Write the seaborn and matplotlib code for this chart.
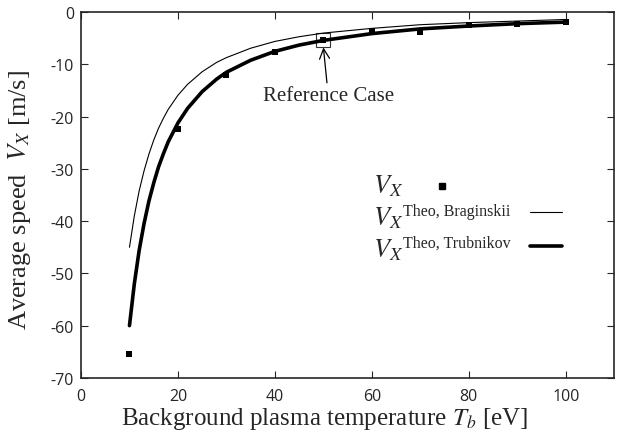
import matplotlib
matplotlib.use('Agg')
import matplotlib.pyplot as plt
from matplotlib.patches import Rectangle
import seaborn as sns

# Simulation points
temp_pts = [10, 20, 30, 40, 50, 60, 70, 80, 90, 100]
vx_pts = [-65.4, -22.4, -12.0, -7.6, -5.35, -3.6, -3.8, -2.4, -2.2, -1.85]

# Theoretical curves
temp_curve = [10, 11, 12, 13, 14, 15, 16, 17, 18, 20, 22, 25, 28, 30,
              35, 40, 45, 50, 60, 70, 80, 90, 100]
vx_trubnikov = [-60.0, -52.0, -45.6, -40.5, -36.2, -32.7, -29.6, -27.1,
                -24.8, -21.2, -18.4, -15.2, -12.8, -11.5, -9.2, -7.5, -6.3,
                -5.4, -4.1, -3.2, -2.65, -2.2, -1.9]
vx_braginskii = [-45.0, -39.0, -34.2, -30.4, -27.2, -24.5, -22.2, -20.3,
                 -18.6, -15.9, -13.8, -11.4, -9.6, -8.7, -6.9, -5.6, -4.7,
                 -4.0, -3.1, -2.4, -2.0, -1.7, -1.4]

x_ticks = [0, 20, 40, 60, 80, 100]
y_ticks = [0, -10, -20, -30, -40, -50, -60, -70]
ref_temp = 50

legend_sup = ['', 'Theo, Braginskii', 'Theo, Trubnikov']


def draw_legend(ax):
    """
    Hand-made legend: labels left aligned, the marker sits closer to
    its label than the two line keys.
    """
    tr = ax.transAxes
    text_y = [0.508, 0.421, 0.333]
    sup_y = [0.0, 0.444, 0.358]
    for sup, ty, sy in zip(legend_sup, text_y, sup_y):
        ax.text(0.548, ty, r'$V_X$', transform=tr, fontsize=19,
                va='baseline', ha='left')
        if sup:
            ax.text(0.604, sy, sup, transform=tr, fontsize=11.5,
                    family='Liberation Serif', va='baseline', ha='left')
    ax.plot([0.677], [0.525], 's', color='black', markersize=4.5,
            transform=tr, clip_on=False)
    ax.plot([0.842, 0.902], [0.454, 0.454], color='black', linewidth=0.8,
            transform=tr, clip_on=False)
    ax.plot([0.842, 0.902], [0.361, 0.361], color='black', linewidth=2.6,
            transform=tr, clip_on=False)


def main():
    sns.set_style('ticks')
    plt.rcParams['font.family'] = ['Open Sans', 'DejaVu Sans']
    plt.rcParams['mathtext.fontset'] = 'stix'
    plt.rcParams['axes.unicode_minus'] = False

    fig, ax = plt.subplots(figsize=(6.23, 4.39), dpi=100)
    fig.subplots_adjust(left=0.13, right=0.986, top=0.97, bottom=0.137)

    sns.lineplot(x=temp_curve, y=vx_braginskii, color='black', linewidth=0.8,
                 ax=ax)
    sns.lineplot(x=temp_curve, y=vx_trubnikov, color='black', linewidth=2.6,
                 ax=ax)
    sns.scatterplot(x=temp_pts, y=vx_pts, color='black', marker='s', s=22,
                    linewidth=0, ax=ax, zorder=3)

    # Reference case box and arrow
    ref_v = vx_pts[temp_pts.index(ref_temp)]
    ax.add_patch(Rectangle((ref_temp - 1.45, ref_v - 1.35), 2.9, 2.7,
                           fill=False, edgecolor='#333333', linewidth=0.8))
    ax.annotate('Reference Case', xy=(ref_temp, ref_v - 1.4),
                xytext=(ref_temp + 1, ref_v - 8.8), ha='center', va='top',
                fontsize=15, family='Liberation Serif',
                arrowprops=dict(arrowstyle='->', color='black', lw=0.9,
                                shrinkA=0, shrinkB=0,
                                mutation_scale=18))

    draw_legend(ax)

    ax.set_xlim(0, 110)
    ax.set_ylim(-70, 0)
    ax.set_xticks(x_ticks)
    ax.set_yticks(y_ticks)
    ax.tick_params(direction='in', top=True, right=True, length=5,
                   width=0.8, labelsize=11.5, pad=5)
    ax.tick_params(axis='x', pad=7)
    for sp in ax.spines.values():
        sp.set_linewidth(1.2)
        sp.set_visible(True)

    ax.set_xlabel(r'Background plasma temperature $T_b$ [eV]',
                  family='Liberation Serif', fontsize=18, labelpad=0)
    ax.xaxis.set_label_coords(0.456, -0.075)
    ax.set_ylabel(r'Average speed  $V_X$ [m/s]',
                  family='Liberation Serif', fontsize=19)
    ax.yaxis.set_label_coords(-0.09, 0.49)

    fig.savefig('out.png', dpi=100)


if __name__ == '__main__':
    main()
